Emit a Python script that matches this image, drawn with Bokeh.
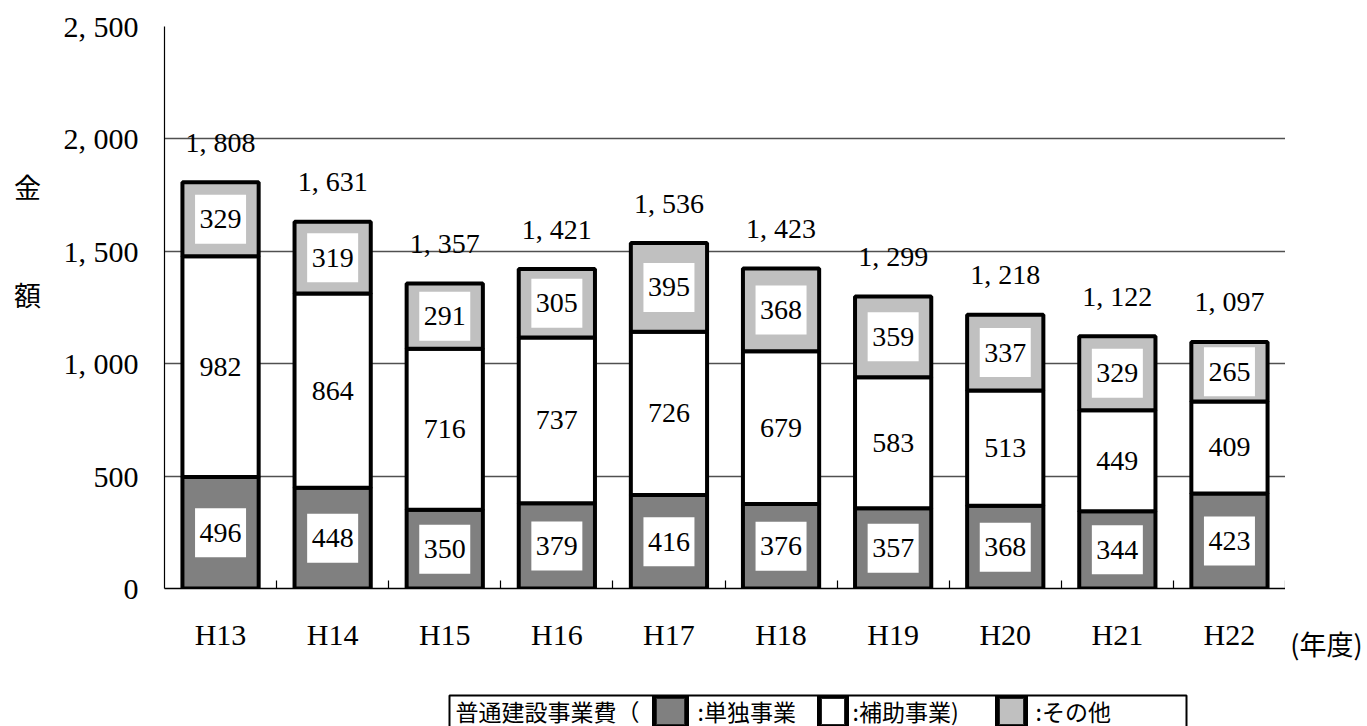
from bokeh.plotting import figure
from bokeh.models import ColumnDataSource, FixedTicker, Range1d
from bokeh.layouts import column, row
from bokeh.embed import file_html
from bokeh.resources import INLINE
from bokeh.core.properties import value

# ---- data ----
years = ["H13", "H14", "H15", "H16", "H17", "H18", "H19", "H20", "H21", "H22"]
tandoku = [496, 448, 350, 379, 416, 376, 357, 368, 344, 423]   # 単独事業
hojo = [982, 864, 716, 737, 726, 679, 583, 513, 449, 409]      # 補助事業
sonota = [329, 319, 291, 305, 395, 368, 359, 337, 329, 265]    # その他
totals = [1808, 1631, 1357, 1421, 1536, 1423, 1299, 1218, 1122, 1097]
y_ticks = [0, 500, 1000, 1500, 2000, 2500]
y_tick_labels = ["0", "500", "1, 000", "1, 500", "2, 000", "2, 500"]
y_title = ["金", "額"]
x_unit = "(年度)"
legend_title = "普通建設事業費（"
legend_names = [":単独事業", ":補助事業)", ":その他"]
colors = ["#808080", "#ffffff", "#c0c0c0"]

SERIF = "Liberation Serif"
CJK = "Noto Sans CJK JP"

def fmt(v):
    return f"{v:,}".replace(",", ", ")

n = len(years)
xc = [i + 0.5 for i in range(n)]
top1 = list(tandoku)
top2 = [a + b for a, b in zip(tandoku, hojo)]
top3 = [a + b for a, b in zip(top2, sonota)]

src = ColumnDataSource(dict(
    x=xc,
    b1=[0] * n, t1=top1, m1=[v / 2 for v in top1], l1=[str(v) for v in tandoku],
    b2=top1, t2=top2, m2=[(a + b) / 2 for a, b in zip(top1, top2)], l2=[str(v) for v in hojo],
    b3=top2, t3=top3, m3=[(a + b) / 2 for a, b in zip(top2, top3)], l3=[str(v) for v in sonota],
    tot=totals, tl=[fmt(v) for v in totals],
))

H = 690
BT, BB = 26, 102          # top / bottom borders (frame spans 26..588)
FH = H - BT - BB

p = figure(width=1225, height=H, x_range=Range1d(0, n), y_range=Range1d(0, 2500),
           output_backend="svg", toolbar_location=None,
           min_border_left=102, min_border_right=0, min_border_top=BT, min_border_bottom=BB)
p.outline_line_color = None
p.background_fill_color = "white"

bw = 0.68
p.vbar(x="x", bottom="b1", top="t1", width=bw, source=src, fill_color=colors[0],
       line_color="black", line_width=4)
p.vbar(x="x", bottom="b2", top="t2", width=bw, source=src, fill_color=colors[1],
       line_color="black", line_width=4)
p.vbar(x="x", bottom="b3", top="t3", width=bw, source=src, fill_color=colors[2],
       line_color="black", line_width=4)

# white label boxes on the grey segments
for m in ("m1", "m3"):
    p.rect(x="x", y=m, width=51, height=49, width_units="screen", height_units="screen",
           source=src, fill_color="white", line_color=None)

for m, l in (("m1", "l1"), ("m2", "l2"), ("m3", "l3")):
    p.text(x="x", y=m, text=l, source=src, text_align="center", text_baseline="middle",
           text_font=value(SERIF), text_font_size="28px", text_color="black")

p.text(x="x", y="tot", text="tl", source=src, y_offset=-40, text_align="center",
       text_baseline="middle", text_font=value(SERIF), text_font_size="28px", text_color="black")

# axes
p.xgrid.visible = False
p.ygrid.ticker = FixedTicker(ticks=y_ticks)
p.ygrid.grid_line_color = "#505050"
p.ygrid.grid_line_width = 1.5

p.yaxis.ticker = FixedTicker(ticks=y_ticks)
p.yaxis.major_label_overrides = {t: lab for t, lab in zip(y_ticks, y_tick_labels)}
p.yaxis.major_tick_line_color = None
p.yaxis.minor_tick_line_color = None
p.yaxis.axis_line_color = "black"
p.yaxis.axis_line_width = 1.2
p.yaxis.major_label_standoff = 20
p.yaxis.major_label_text_font = SERIF
p.yaxis.major_label_text_font_size = "30px"
p.yaxis.major_label_text_color = "black"

p.xaxis.ticker = FixedTicker(ticks=xc, minor_ticks=list(range(1, n + 1)))
p.xaxis.major_label_overrides = {x: y for x, y in zip(xc, years)}
p.xaxis.major_tick_line_color = None
p.xaxis.minor_tick_in = 8
p.xaxis.minor_tick_out = 0
p.xaxis.minor_tick_line_color = "black"
p.xaxis.minor_tick_line_width = 1.2
p.xaxis.axis_line_color = "black"
p.xaxis.axis_line_width = 1.5
p.xaxis.major_label_standoff = 23
p.xaxis.major_label_text_font = SERIF
p.xaxis.major_label_text_font_size = "30px"
p.xaxis.major_label_text_color = "black"

def blank(w, h, xr, yr, **kw):
    f = figure(width=w, height=h, x_range=Range1d(*xr), y_range=Range1d(*yr),
               output_backend="svg", toolbar_location=None,
               min_border_left=0, min_border_right=0, **kw)
    f.grid.visible = False
    f.outline_line_color = None
    return f

# left strip: vertical y title (frame aligned with main plot frame: y = 588 - page_y)
left = blank(60, H, (0, 60), (0, FH), min_border_top=BT, min_border_bottom=BB)
left.axis.visible = False
left.text(x=[27, 27], y=[FH + BT - 186, FH + BT - 294], text=y_title, text_font=value(CJK),
          text_font_size="27px", text_align="center", text_baseline="middle", text_color="black")

# right strip: unit label drawn as an x-axis title
right = blank(82, H, (0, 1), (0, 1), min_border_top=BT, min_border_bottom=BB)
right.yaxis.visible = False
xa = right.xaxis
xa.ticker = FixedTicker(ticks=[])
xa.axis_line_color = None
xa.major_tick_line_color = None
xa.minor_tick_line_color = None
xa.major_label_standoff = 0
xa.axis_label = x_unit
xa.axis_label_text_font = CJK
xa.axis_label_text_font_size = "27px"
xa.axis_label_text_font_style = "normal"
xa.axis_label_text_color = "black"
xa.axis_label_standoff = 35

# ---- legend strip ----
LH = 36
lg = blank(1367, LH, (0, 1367), (0, LH), min_border_top=0, min_border_bottom=0)
lg.axis.visible = False
box_l, box_r, box_t, box_b = 449, 1186, 31, -10
cells = [(652, 688), (817, 848), (995, 1027)]      # black swatch cells
text_x = [455, 697, 852, 1035]

lg.quad(left=box_l, right=box_r, top=box_t, bottom=box_b, fill_color="white",
        line_color="black", line_width=2)
lg.quad(left=[c[0] for c in cells], right=[c[1] for c in cells], top=box_t, bottom=box_b,
        fill_color="black", line_color="black")
lg.quad(left=[c[0] + 4 for c in cells], right=[c[1] - 4 for c in cells],
        top=box_t - 3, bottom=box_b + 12, fill_color=colors, line_color="#222222", line_width=1)
lg.text(x=text_x, y=[16] * 4, text=[legend_title] + legend_names,
        text_font=value(CJK), text_font_size="23px", text_align="left",
        text_baseline="middle", text_color="black")

layout = column(row(left, p, right, spacing=0), lg, spacing=0)
open("out.html", "w").write(file_html(layout, INLINE))
